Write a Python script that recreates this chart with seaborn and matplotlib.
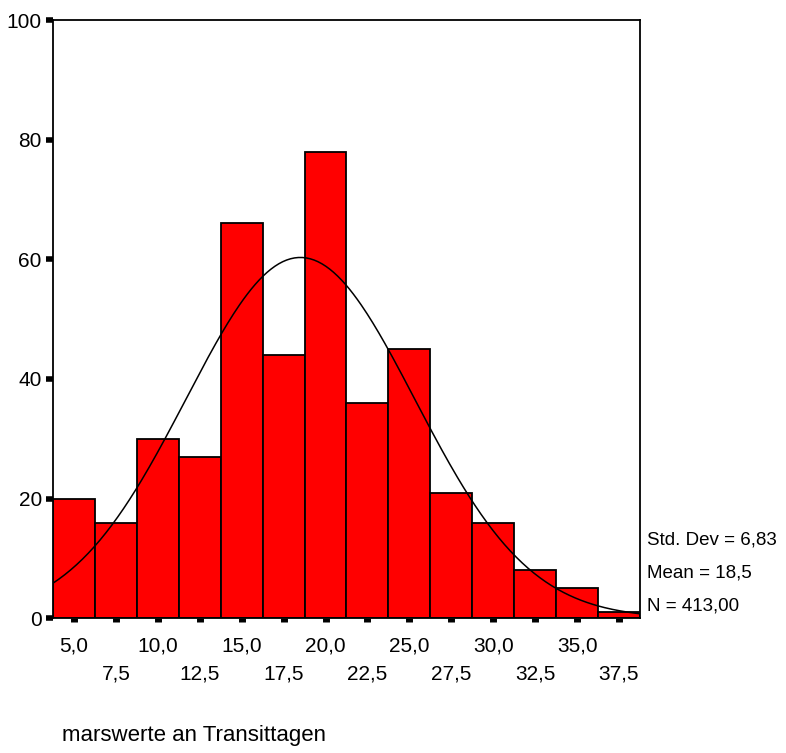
import numpy as np
import matplotlib
matplotlib.use("Agg")
import matplotlib.pyplot as plt
import seaborn as sns

# histogram data (bin centres and counts)
bin_centres = [5.0, 7.5, 10.0, 12.5, 15.0, 17.5, 20.0, 22.5, 25.0, 27.5, 30.0, 32.5, 35.0, 37.5]
counts = [20, 16, 30, 27, 66, 44, 78, 36, 45, 21, 16, 8, 5, 1]
bin_width = 2.5

# summary statistics shown at the right
std_dev = 6.83
mean = 18.5
n_total = 413

x_label = "marswerte an Transittagen"
y_ticks = [0, 20, 40, 60, 80, 100]

sns.set_style("white")
plt.rcParams["font.family"] = ["Liberation Sans", "DejaVu Sans"]
plt.rcParams["text.color"] = "black"
plt.rcParams["xtick.color"] = "black"
plt.rcParams["ytick.color"] = "black"

fig = plt.figure(figsize=(7.86, 7.53), dpi=100)
ax = fig.add_axes([0.0674, 0.179, 0.7468, 0.7944])

edges = [c - bin_width / 2 for c in bin_centres] + [bin_centres[-1] + bin_width / 2]
sns.histplot(x=bin_centres, weights=counts, bins=edges, color="#ff0000",
             edgecolor="black", linewidth=1.3, alpha=1, ax=ax)

# fitted normal curve
xs = np.linspace(edges[0], edges[-1], 300)
ys = n_total * bin_width / (std_dev * np.sqrt(2 * np.pi)) * np.exp(-0.5 * ((xs - mean) / std_dev) ** 2)
sns.lineplot(x=xs, y=ys, color="black", linewidth=1.1, ax=ax)

ax.set_xlim(edges[0], edges[-1])
ax.set_ylim(0, 100)
for s in ax.spines.values():
    s.set_color("black")
    s.set_linewidth(1.3)

ax.set_yticks(y_ticks)
ax.set_yticklabels([str(v) for v in y_ticks], fontsize=15)
ax.tick_params(axis="y", left=True, direction="out", length=5, width=4, pad=3,
               color="black", labelcolor="black")

major = bin_centres[0::2]
minor = bin_centres[1::2]
ax.set_xticks(major)
ax.set_xticklabels([f"{v:.1f}".replace(".", ",") for v in major], fontsize=15)
ax.set_xticks(minor, minor=True)
ax.set_xticklabels([f"{v:.1f}".replace(".", ",") for v in minor], minor=True, fontsize=15)
ax.tick_params(axis="x", which="both", bottom=True, direction="out", length=3, width=5,
               color="black", labelcolor="black")
ax.tick_params(axis="x", which="major", pad=10)
ax.tick_params(axis="x", which="minor", pad=30)

ax.set_xlabel("")
ax.set_ylabel("")

stats = ["Std. Dev = " + f"{std_dev:.2f}".replace(".", ","),
         "Mean = " + f"{mean:.1f}".replace(".", ","),
         "N = " + f"{n_total:.2f}".replace(".", ",")]
for i, t in enumerate(stats):
    fig.text(647 / 786, 1 - (540 + 33 * i) / 753, t, fontsize=13.5, va="center", ha="left")

fig.text(62 / 786, 1 - 735 / 753, x_label, fontsize=16, va="center", ha="left")

fig.savefig("out.png", dpi=100, facecolor="white")
